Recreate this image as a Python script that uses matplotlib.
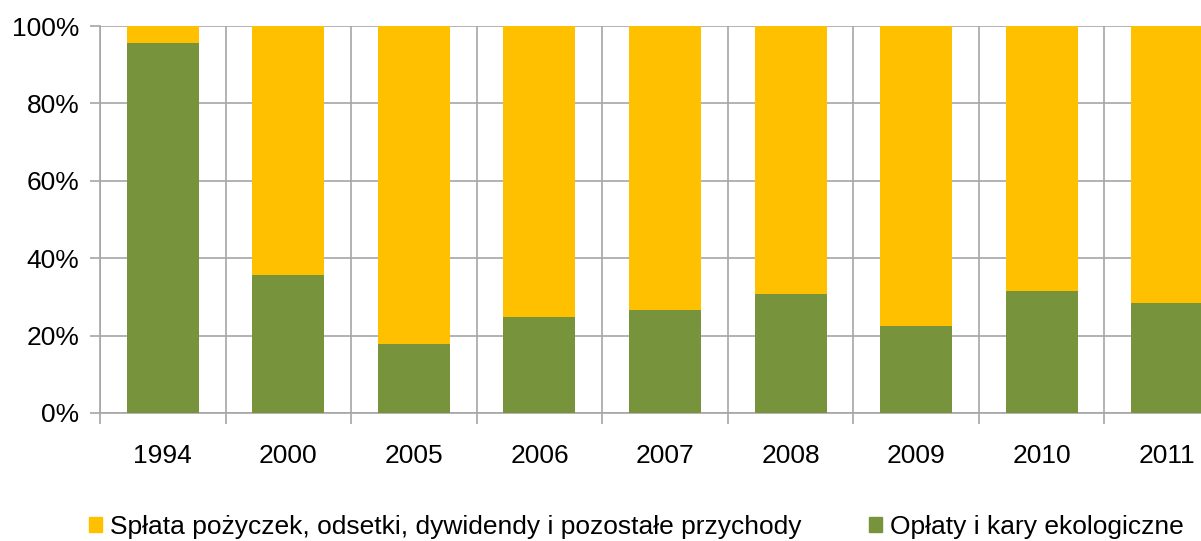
import matplotlib
matplotlib.use("Agg")
import matplotlib.pyplot as plt
from matplotlib.patches import Patch
from matplotlib.ticker import FuncFormatter, FixedLocator
import numpy as np

plt.rcParams['font.family'] = ['Liberation Sans', 'DejaVu Sans']

years = ["1994", "2000", "2005", "2006", "2007", "2008", "2009", "2010", "2011"]
oplaty = [0.955, 0.357, 0.178, 0.249, 0.267, 0.307, 0.225, 0.315, 0.283]
splata = [1 - v for v in oplaty]

green = "#77933c"
yellow = "#ffc000"
grid_c = "#a6a6a6"

fig = plt.figure(figsize=(12.01, 5.41), dpi=100)
ax = fig.add_axes([100 / 1201, 128 / 541, 1130 / 1201, 387 / 541])

x = np.arange(len(years))
w = 0.573
ax.bar(x, oplaty, w, color=green, zorder=3)
ax.bar(x, splata, w, bottom=oplaty, color=yellow, zorder=3)

ax.set_xlim(-0.5, len(years) - 0.5)
ax.set_ylim(0, 1)
ax.set_yticks(np.arange(0, 1.01, 0.2))
ax.yaxis.set_major_formatter(FuncFormatter(lambda v, p: f"{v * 100:.0f}%"))
ax.set_xticks(x)
ax.set_xticklabels(years)
ax.xaxis.set_minor_locator(FixedLocator(np.arange(-0.5, len(years), 1.0)))

ax.grid(axis='y', color=grid_c, linewidth=1.2, zorder=0)
ax.grid(axis='x', which='minor', color=grid_c, linewidth=1.2, zorder=0)

for s in ['top', 'right']:
    ax.spines[s].set_visible(False)
for s in ['left', 'bottom']:
    ax.spines[s].set_color(grid_c)
    ax.spines[s].set_linewidth(1.2)

ax.tick_params(axis='x', which='major', length=0, pad=22, labelsize=19)
ax.tick_params(axis='x', which='minor', length=8, color=grid_c, width=1.2)
ax.tick_params(axis='y', length=7, color=grid_c, width=1.2, pad=8, labelsize=19)

handles = [Patch(color=yellow), Patch(color=green)]
labels = ["Spłata pożyczek, odsetki, dywidendy i pozostałe przychody",
          "Opłaty i kary ekologiczne"]
fig.legend(handles, labels, loc='center left', bbox_to_anchor=(89 / 1201, 1 - 527 / 541),
           ncol=2, frameon=False, fontsize=19, handlelength=0.5, handleheight=0.5,
           handletextpad=0.3, columnspacing=2.55, borderpad=0, borderaxespad=0)

fig.savefig("out.png", dpi=100)
